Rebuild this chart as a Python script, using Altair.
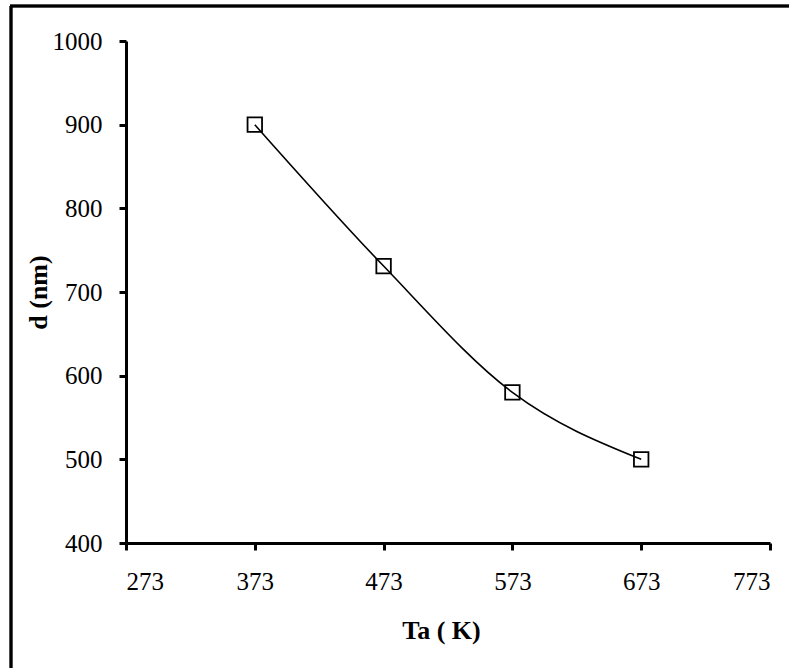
import altair as alt
import pandas as pd

temps = [373, 473, 573, 673]
thickness = [900, 731, 580, 500]
x_ticks = [273, 373, 473, 573, 673, 773]
y_ticks = [400, 500, 600, 700, 800, 900, 1000]

df = pd.DataFrame({"Ta": temps, "d": thickness})

FONT = "Liberation Serif"

x_enc = alt.X("Ta:Q", scale=alt.Scale(domain=[273, 773], nice=False, zero=False),
              axis=alt.Axis(values=x_ticks, title="Ta ( K)", grid=False, format="d",
                            titleY=95, titleBaseline="alphabetic", titleX=315))
y_enc = alt.Y("d:Q", scale=alt.Scale(domain=[400, 1000], nice=False, zero=False),
              axis=alt.Axis(values=y_ticks, title="d (nm)", grid=False, format="d",
                            titleX=-80, titleBaseline="alphabetic"))

line = alt.Chart(df).mark_line(color="black", strokeWidth=1.6, interpolate="monotone").encode(x=x_enc, y=y_enc)
pts = alt.Chart(df).mark_point(shape="square", size=210, filled=False,
                               stroke="black", strokeWidth=1.8, opacity=1).encode(x=x_enc, y=y_enc)

frame_left = alt.Chart(df).mark_rule(color="black", strokeWidth=2.5, clip=False).encode(
    x=alt.value(-115), y=alt.value(-35), y2=alt.value(700))
frame_top = alt.Chart(df).mark_rule(color="black", strokeWidth=2.5, clip=False).encode(
    x=alt.value(-116), x2=alt.value(900), y=alt.value(-35))

chart = alt.layer(frame_left, frame_top, line, pts).properties(
    width=644, height=502,
    padding={"left": 126, "top": 41, "right": 19, "bottom": 125},
    autosize=alt.AutoSizeParams(type="none"),
).configure_view(stroke=None).configure_axis(
    domainColor="black", domainWidth=3, tickColor="black", tickWidth=3, tickSize=7,
    labelFont=FONT, labelFontSize=25, labelColor="black",
    titleFont=FONT, titleFontSize=26, titleFontWeight="bold", titleColor="black",
).configure_axisX(labelPadding=19).configure_axisY(labelPadding=17)

chart.save("out.html", embed_options={"renderer": "svg", "actions": False})
